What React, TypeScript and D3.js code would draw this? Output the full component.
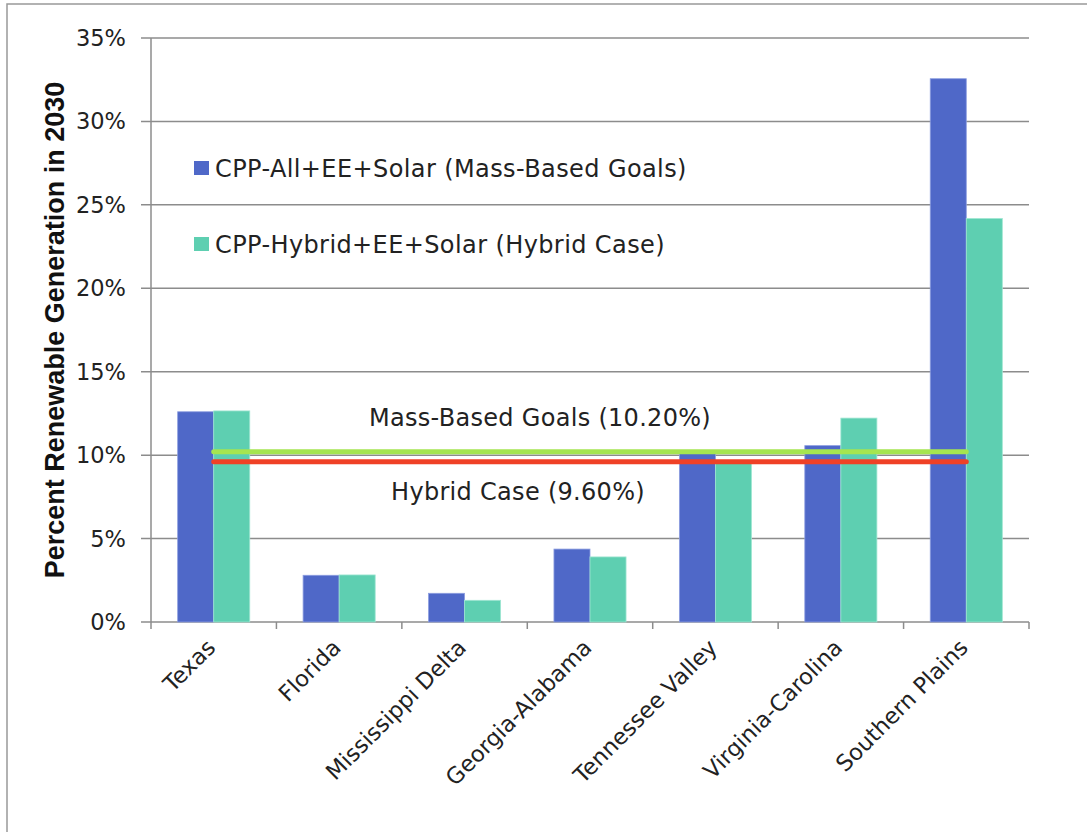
import React, { useEffect, useRef } from "react";
import * as d3 from "d3";

// Regions along the x axis
const categories = [
  "Texas",
  "Florida",
  "Mississippi Delta",
  "Georgia-Alabama",
  "Tennessee Valley",
  "Virginia-Carolina",
  "Southern Plains",
];

// Series names (legend) and their values (share of generation)
const seriesNames = [
  "CPP-All+EE+Solar (Mass-Based Goals)",
  "CPP-Hybrid+EE+Solar (Hybrid Case)",
];
const massBasedValues = [0.126, 0.028, 0.0172, 0.0437, 0.102, 0.1057, 0.3256];
const hybridValues = [0.1265, 0.0282, 0.013, 0.039, 0.095, 0.1222, 0.2418];

// Reference levels drawn as horizontal lines
const goalNames = ["Mass-Based Goals (10.20%)", "Hybrid Case (9.60%)"];
const goalValues = [0.102, 0.096];

// Y axis ticks
const yTicks = [0, 0.05, 0.1, 0.15, 0.2, 0.25, 0.3, 0.35];
const yTitle = "Percent Renewable Generation in 2030";

const W = 1087;
const H = 832;
const FONT = "'DejaVu Sans', sans-serif";
const barColors = ["#4F68C8", "#5ECFB1"];
const goalColors = ["#A5E550", "#EF4126"];

export default function App() {
  const ref = useRef<SVGSVGElement | null>(null);

  useEffect(() => {
    const svg = d3.select(ref.current);
    svg.selectAll("*").remove();

    const left = 151,
      right = 1029,
      top = 38,
      bottom = 622;

    const x0 = d3.scaleBand<string>().domain(categories).range([left, right]);
    const x1 = d3
      .scaleBand<string>()
      .domain(seriesNames)
      .range([0, x0.bandwidth()])
      .paddingOuter(0.74);
    const y = d3.scaleLinear().domain([0, 0.35]).range([bottom, top]);

    // outer frame
    svg
      .append("rect")
      .attr("x", 7)
      .attr("y", 4)
      .attr("width", W + 20)
      .attr("height", H + 20)
      .attr("fill", "#fff")
      .attr("stroke", "#999")
      .attr("stroke-width", 1.5);

    // gridlines with outward ticks
    svg
      .append("g")
      .selectAll("line")
      .data(yTicks)
      .join("line")
      .attr("x1", left - 10)
      .attr("x2", right)
      .attr("y1", (d) => y(d))
      .attr("y2", (d) => y(d))
      .attr("stroke", "#8c8c8c")
      .attr("stroke-width", 1.5);

    // y axis line
    svg
      .append("line")
      .attr("x1", left)
      .attr("x2", left)
      .attr("y1", top)
      .attr("y2", bottom)
      .attr("stroke", "#8c8c8c")
      .attr("stroke-width", 1.5);

    // x axis category tick marks
    const tickXs = categories.map((c) => x0(c)!).concat([right]);
    svg
      .append("g")
      .selectAll("line")
      .data(tickXs)
      .join("line")
      .attr("x1", (d) => d)
      .attr("x2", (d) => d)
      .attr("y1", bottom)
      .attr("y2", bottom + 7)
      .attr("stroke", "#8c8c8c")
      .attr("stroke-width", 1.5);

    // y tick labels
    svg
      .append("g")
      .selectAll("text")
      .data(yTicks)
      .join("text")
      .attr("x", 126)
      .attr("y", (d) => y(d) + 8)
      .attr("text-anchor", "end")
      .attr("font-family", FONT)
      .attr("font-size", 22.5)
      .attr("fill", "#222")
      .text((d) => d3.format(".0%")(d));

    // y title
    svg
      .append("text")
      .attr("transform", `translate(64, ${330}) rotate(-90)`)
      .attr("text-anchor", "middle")
      .attr("font-family", "'Liberation Sans', Arial, sans-serif")
      .attr("font-weight", "bold")
      .attr("font-size", 27)
      .attr("fill", "#111")
      .text(yTitle);

    // bars
    const seriesValues = [massBasedValues, hybridValues];
    seriesNames.forEach((s, si) => {
      svg
        .append("g")
        .selectAll("rect")
        .data(categories)
        .join("rect")
        .attr("x", (c) => x0(c)! + x1(s)!)
        .attr("width", x1.bandwidth())
        .attr("y", (c, i) => y(seriesValues[si][i]))
        .attr("height", (c, i) => bottom - y(seriesValues[si][i]))
        .attr("fill", barColors[si])
        .attr("stroke", si === 0 ? "#8c9de0" : "#9fe6d2")
        .attr("stroke-width", 0.8);
    });

    // category labels
    svg
      .append("g")
      .selectAll("text")
      .data(categories)
      .join("text")
      .attr(
        "transform",
        (c) => `translate(${x0(c)! + x0.bandwidth() / 2 + 3}, ${bottom + 27}) rotate(-45)`
      )
      .attr("text-anchor", "end")
      .attr("font-family", FONT)
      .attr("font-size", 22.5)
      .attr("fill", "#222")
      .text((c) => c);

    // reference lines
    const cx0 = x0(categories[0])! + x0.bandwidth() / 2;
    const cx1 = x0(categories[categories.length - 1])! + x0.bandwidth() / 2;
    goalValues.forEach((v, i) => {
      svg
        .append("line")
        .attr("x1", cx0)
        .attr("x2", cx1)
        .attr("y1", y(v))
        .attr("y2", y(v))
        .attr("stroke", goalColors[i])
        .attr("stroke-width", 5)
        .attr("stroke-linecap", "round");
    });

    // reference line labels
    svg
      .append("text")
      .attr("x", 540)
      .attr("y", y(goalValues[0]) - 26)
      .attr("text-anchor", "middle")
      .attr("font-family", FONT)
      .attr("font-size", 24)
      .attr("letter-spacing", 0.3)
      .attr("fill", "#222")
      .text(goalNames[0]);
    svg
      .append("text")
      .attr("x", 518)
      .attr("y", y(goalValues[1]) + 38)
      .attr("text-anchor", "middle")
      .attr("font-family", FONT)
      .attr("font-size", 24)
      .attr("letter-spacing", 0.3)
      .attr("fill", "#222")
      .text(goalNames[1]);

    // legend
    const legendYs = [168, 244];
    seriesNames.forEach((s, i) => {
      const g = svg.append("g").attr("transform", `translate(194, ${legendYs[i]})`);
      g.append("rect")
        .attr("x", 0)
        .attr("y", -7)
        .attr("width", 15)
        .attr("height", 14)
        .attr("fill", barColors[i]);
      g.append("text")
        .attr("x", 21)
        .attr("y", 8.5)
        .attr("font-family", FONT)
        .attr("font-size", 24)
        .attr("letter-spacing", 0.4)
        .attr("fill", "#222")
        .text(s);
    });
  }, []);

  return (
    <svg
      ref={ref}
      width={W}
      height={H}
      style={{ position: "absolute", left: 0, top: 0, background: "#fff" }}
    />
  );
}
